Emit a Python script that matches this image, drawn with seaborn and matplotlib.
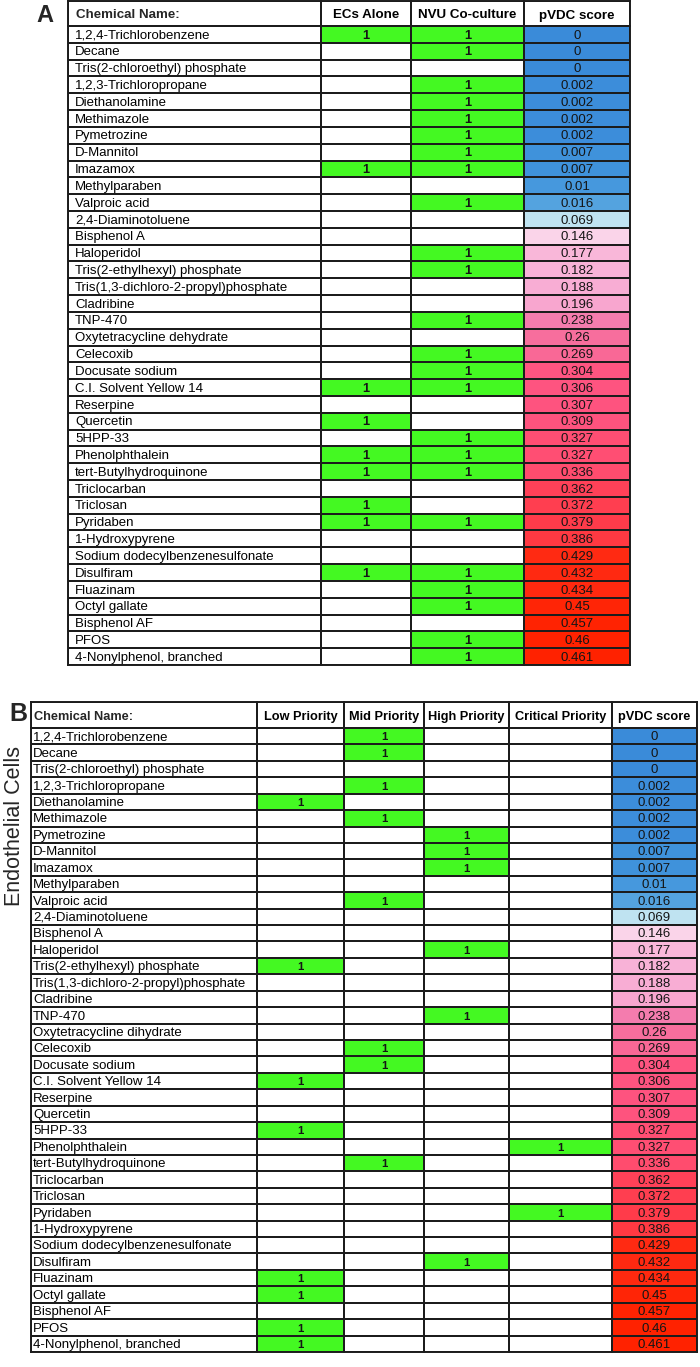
import numpy as np
import matplotlib
matplotlib.use("Agg")
import matplotlib.pyplot as plt
from matplotlib.colors import LinearSegmentedColormap, ListedColormap
import seaborn as sns

chemicals = [
    "1,2,4-Trichlorobenzene", "Decane", "Tris(2-chloroethyl) phosphate",
    "1,2,3-Trichloropropane", "Diethanolamine", "Methimazole", "Pymetrozine",
    "D-Mannitol", "Imazamox", "Methylparaben", "Valproic acid",
    "2,4-Diaminotoluene", "Bisphenol A", "Haloperidol",
    "Tris(2-ethylhexyl) phosphate", "Tris(1,3-dichloro-2-propyl)phosphate",
    "Cladribine", "TNP-470", "Oxytetracycline dehydrate", "Celecoxib",
    "Docusate sodium", "C.I. Solvent Yellow 14", "Reserpine", "Quercetin",
    "5HPP-33", "Phenolphthalein", "tert-Butylhydroquinone", "Triclocarban",
    "Triclosan", "Pyridaben", "1-Hydroxypyrene",
    "Sodium dodecylbenzenesulfonate", "Disulfiram", "Fluazinam",
    "Octyl gallate", "Bisphenol AF", "PFOS", "4-Nonylphenol, branched",
]
# panel B spells one name differently
chemicals_b = [c.replace("dehydrate", "dihydrate") for c in chemicals]

pvdc_score = [0, 0, 0, 0.002, 0.002, 0.002, 0.002, 0.007, 0.007, 0.01, 0.016,
              0.069, 0.146, 0.177, 0.182, 0.188, 0.196, 0.238, 0.26, 0.269,
              0.304, 0.306, 0.307, 0.309, 0.327, 0.327, 0.336, 0.362, 0.372,
              0.379, 0.386, 0.429, 0.432, 0.434, 0.45, 0.457, 0.46, 0.461]

ecs_alone = [1, 0, 0, 0, 0, 0, 0, 0, 1, 0, 0, 0, 0, 0, 0, 0, 0, 0, 0, 0,
             0, 1, 0, 1, 0, 1, 1, 0, 1, 1, 0, 0, 1, 0, 0, 0, 0, 0]
nvu_coculture = [1, 1, 0, 1, 1, 1, 1, 1, 1, 0, 1, 0, 0, 1, 1, 0, 0, 1, 0, 1,
                 1, 1, 0, 0, 1, 1, 1, 0, 0, 1, 0, 0, 1, 1, 1, 0, 1, 1]

priority_levels = ["Low", "Mid", "High", "Critical"]
priority = ["Mid", "Mid", "", "Mid", "Low", "Mid", "High", "High", "High", "",
            "Mid", "", "", "High", "Low", "", "", "High", "", "Mid",
            "Mid", "Low", "", "", "Low", "Critical", "Mid", "", "", "Critical",
            "", "", "High", "Low", "Low", "", "Low", "Low"]

# look of the tables
W, H = 700, 1367
EDGE = "#1c1c1c"
GREEN = "#44f922"
flag_cmap = ListedColormap(["white", GREEN])
white_cmap = ListedColormap(["white"])
score_stops = [(0, "#3a8bd9"), (0.007, "#4194dc"), (0.016, "#58a6e0"),
               (0.069, "#c0e3f1"), (0.10, "#f6eef5"), (0.146, "#fad4e9"),
               (0.19, "#f8abd3"), (0.24, "#f47bad"), (0.27, "#f96896"),
               (0.305, "#fe5480"), (0.336, "#ff4c6e"), (0.38, "#ff3b4a"),
               (0.43, "#ff2a12"), (0.461, "#ff2200")]
vmax = max(pvdc_score)
score_cmap = LinearSegmentedColormap.from_list(
    "pvdc", [(v / vmax, c) for v, c in score_stops])

sns.set_style("white")
plt.rcParams["font.family"] = ["Liberation Sans", "DejaVu Sans"]

fig = plt.figure(figsize=(W / 100, H / 100), dpi=100)


def px_axes(x0, y0, x1, y1):
    return fig.add_axes([x0 / W, 1 - y1 / H, (x1 - x0) / W, (y1 - y0) / H])


def column(ax, values, cmap, vmin, vmax, labels, nudge=0.07, **kws):
    kws.setdefault("color", "#151515")
    kws.setdefault("fontsize", 9.5)
    sns.heatmap(np.asarray(values, dtype=float).reshape(-1, 1), ax=ax,
                cmap=cmap, vmin=vmin, vmax=vmax, cbar=False,
                annot=np.asarray(labels, dtype=object).reshape(-1, 1), fmt="",
                linewidths=1.2, linecolor=EDGE, xticklabels=False,
                yticklabels=False, annot_kws=kws)
    # text sits a touch low in the cells of the original
    for t in ax.texts:
        x, y = t.get_position()
        t.set_position((x, y + nudge))
    for s in ax.spines.values():
        s.set_visible(True)
        s.set_linewidth(1.4)
        s.set_color(EDGE)


def draw_table(edges, top, head_bottom, bottom, headers, names, cols,
               name_pad, head_size, flag_size):
    # name column
    ax = px_axes(edges[0], head_bottom, edges[1], bottom)
    column(ax, [0] * len(names), white_cmap, 0, 1, [""] * len(names))
    pad = name_pad / (edges[1] - edges[0])
    for i, n in enumerate(names):
        ax.text(pad, i + 0.57, n, ha="left", va="center", fontsize=9.5,
                color="black")
    axh = px_axes(edges[0], top, edges[1], head_bottom)
    column(axh, [0], white_cmap, 0, 1, [""])
    axh.text(pad + 0.005, 0.58, headers[0], ha="left", va="center",
             fontsize=head_size, fontweight="bold")

    for k, (vals, kind) in enumerate(cols):
        x0, x1 = edges[k + 1], edges[k + 2]
        ax = px_axes(x0, head_bottom, x1, bottom)
        if kind == "flag":
            column(ax, vals, flag_cmap, 0, 1,
                   ["1" if v else "" for v in vals],
                   fontsize=flag_size, fontweight="bold")
        else:
            column(ax, vals, score_cmap, 0, vmax,
                   [f"{v:g}" for v in vals])
        axh = px_axes(x0, top, x1, head_bottom)
        column(axh, [0], white_cmap, 0, 1, [headers[k + 1]], nudge=0.08,
               fontsize=head_size, fontweight="bold", color="black")


# panel A
draw_table([68, 321, 411, 524, 630], 1, 26, 665,
           ["Chemical Name:", "ECs Alone", "NVU Co-culture", "pVDC score"],
           chemicals,
           [(ecs_alone, "flag"), (nvu_coculture, "flag"), (pvdc_score, "score")],
           name_pad=7, head_size=9.6, flag_size=9.3)

# panel B
prio_cols = [([1 if p == lvl else 0 for p in priority], "flag")
             for lvl in priority_levels]
draw_table([31, 257, 344, 424, 509, 612, 697], 702, 728, 1352,
           ["Chemical Name:"] + [f"{lvl} Priority" for lvl in priority_levels]
           + ["pVDC score"],
           chemicals_b, prio_cols + [(pvdc_score, "score")],
           name_pad=2, head_size=9.2, flag_size=8.2)

fig.text(45 / W, 1 - 15 / H, "A", fontsize=17, fontweight="bold",
         ha="center", va="center")
fig.text(18 / W, 1 - 714 / H, "B", fontsize=18, fontweight="bold",
         ha="center", va="center")
fig.text(15 / W, 1 - 826 / H, "Endothelial Cells", fontsize=15.5,
         rotation=90, ha="center", va="center")

fig.savefig("out.png", dpi=100)
